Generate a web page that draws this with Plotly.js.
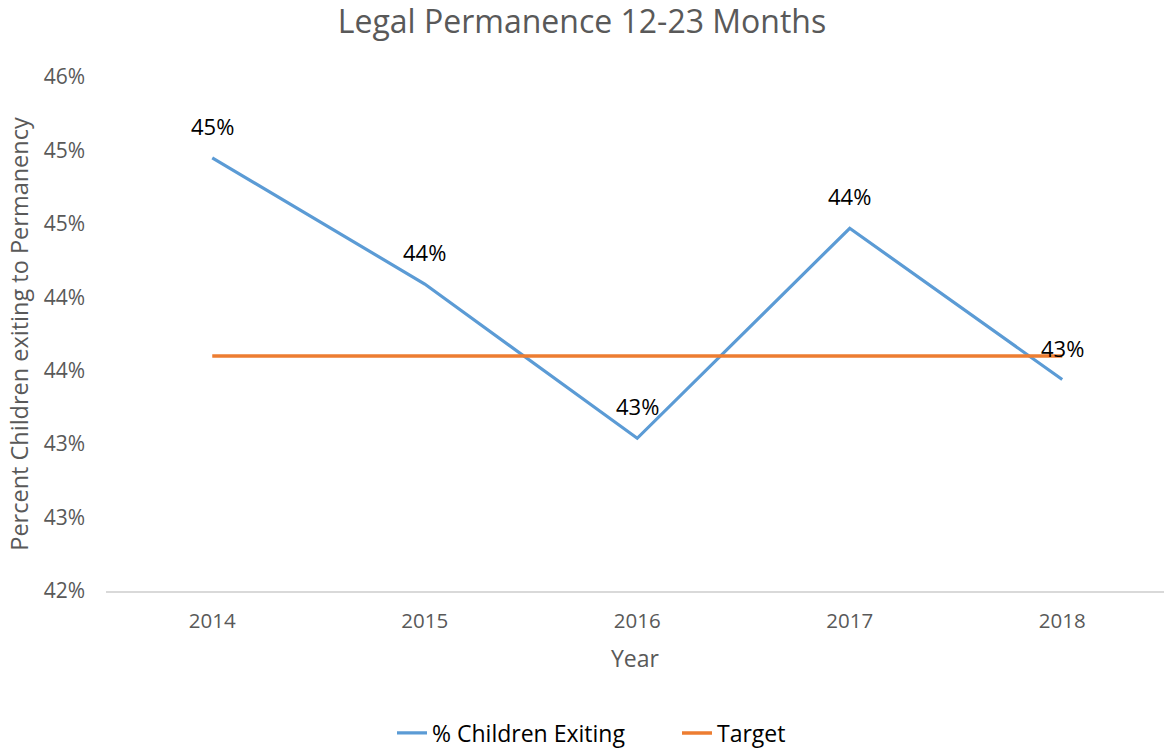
<!DOCTYPE html>
<html>
<head>
<meta charset="utf-8">
<script src="https://cdn.plot.ly/plotly-3.0.1.min.js"></script>
<style>html,body{margin:0;padding:0;background:#fff;}#chart{width:1164px;height:748px;}</style>
</head>
<body>
<div id="chart"></div>
<script>
const years = ['2014', '2015', '2016', '2017', '2018'];
const exiting = [0.4495, 0.4409, 0.4304, 0.4447, 0.4344];
const exitingLabels = ['45%', '44%', '43%', '44%', '43%'];
const target = [0.436, 0.436, 0.436, 0.436, 0.436];
const yTickVals = [0.42, 0.425, 0.43, 0.435, 0.44, 0.445, 0.45, 0.455];
const yTickText = ['42%', '43%', '43%', '44%', '44%', '45%', '45%', '46%'];

const FONT = '"Open Sans", "Noto Sans", sans-serif';
const xIdx = years.map((_, i) => i);

const traces = [
  {
    x: xIdx, y: exiting, type: 'scatter', mode: 'lines', name: '% Children Exiting',
    line: {color: '#5B9BD5', width: 3.2}, hoverinfo: 'skip'
  },
  {
    x: xIdx, y: target, type: 'scatter', mode: 'lines', name: 'Target',
    line: {color: '#ED7D31', width: 3.5}, hoverinfo: 'skip'
  }
];

const annotations = xIdx.map((i) => ({
  x: i, y: exiting[i], xref: 'x', yref: 'y', text: exitingLabels[i],
  showarrow: false, yshift: 32, font: {family: FONT, size: 22, color: '#000000'}
}));

const layout = {
  width: 1164, height: 748,
  paper_bgcolor: '#ffffff', plot_bgcolor: '#ffffff',
  margin: {l: 106, r: 0, t: 77, b: 157},
  font: {family: FONT, color: '#595959'},
  title: {
    text: 'Legal Permanence 12-23 Months',
    font: {family: FONT, size: 32, color: '#595959'},
    x: 0.5, xanchor: 'center', y: 1 - 22 / 748, yanchor: 'middle', yref: 'container'
  },
  xaxis: {
    range: [-0.5, 4.479],
    tickvals: xIdx, ticktext: years,
    tickfont: {family: FONT, size: 20.5, color: '#595959'},
    showgrid: false, zeroline: false,
    showline: true, linecolor: '#D9D9D9', linewidth: 1.5,
    ticks: '', ticklabelstandoff: 11,
    title: {text: 'Year', font: {family: FONT, size: 23, color: '#595959'}, standoff: 18},
    fixedrange: true
  },
  yaxis: {
    range: [0.42, 0.455],
    tickvals: yTickVals, ticktext: yTickText,
    tickfont: {family: FONT, size: 21, color: '#595959'},
    showgrid: false, zeroline: false, showline: false,
    ticks: '', ticklabelstandoff: 20,
    title: {text: 'Percent Children exiting to Permanency', font: {family: FONT, size: 23.5, color: '#595959'}, standoff: 8},
    fixedrange: true
  },
  showlegend: true,
  legend: {
    orientation: 'h', xref: 'container', x: 392 / 1164, xanchor: 'left',
    y: 1 - 733 / 748, yanchor: 'middle', yref: 'container',
    font: {family: FONT, size: 23, color: '#000000'},
    entrywidth: 240, entrywidthmode: 'pixels', tracegroupgap: 0
  },
  annotations: annotations
};

Plotly.newPlot('chart', traces, layout, {displayModeBar: false, staticPlot: true});
</script>
</body>
</html>
